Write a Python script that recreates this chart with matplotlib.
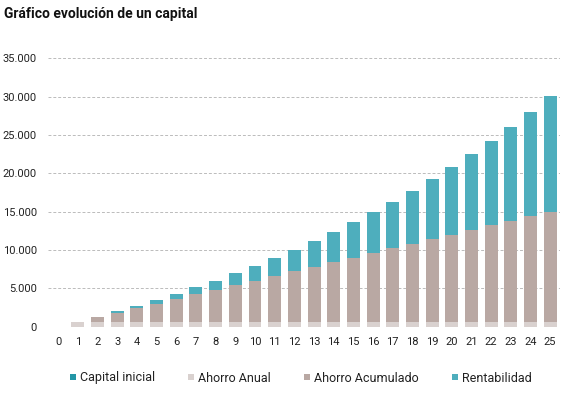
import matplotlib
matplotlib.use("Agg")
import matplotlib.pyplot as plt
from matplotlib.lines import Line2D
import numpy as np

plt.rcParams['font.family'] = ['Roboto', 'DejaVu Sans']

years = list(range(1, 26))
capital_inicial = [0] * 25
ahorro_anual = [600] * 25
ahorro_acumulado = [0, 600, 1200, 1800, 2400, 3000, 3600, 4200, 4800, 5400,
                    6000, 6600, 7200, 7800, 8400, 9000, 9600, 10200, 10800, 11400,
                    12000, 12600, 13200, 13800, 14400]
total = [630, 1290, 1990, 2710, 3480, 4290, 5130, 6020, 6950, 7920,
         8950, 10030, 11160, 12350, 13600, 14900, 16280, 17720, 19240, 20830,
         22500, 24260, 26100, 28040, 30070]
rentabilidad = [t - a - b - c for t, a, b, c in zip(total, capital_inicial, ahorro_anual, ahorro_acumulado)]

series_names = ["Capital inicial", "Ahorro Anual", "Ahorro Acumulado", "Rentabilidad"]
colors = ["#2396a6", "#d9d1cf", "#b9a8a3", "#4eaebd"]
x_ticks = list(range(0, 26))
y_ticks = [0, 5000, 10000, 15000, 20000, 25000, 30000, 35000]

fig = plt.figure(figsize=(5.67, 3.97), dpi=100)
ax = fig.add_axes([48/567, 1-326.7/397, (560-48)/567, (326.7-58.3)/397])

x = np.array(years)
bottom = np.zeros(len(years))
order = [(capital_inicial, colors[0]), (ahorro_anual, colors[1]),
         (ahorro_acumulado, colors[2]), (rentabilidad, colors[3])]
for vals, col in order:
    v = np.array(vals, dtype=float)
    ax.bar(x, v, bottom=bottom, width=0.66, color=col, linewidth=0, zorder=3)
    bottom += v

ax.set_xlim(-0.52, 25.5)
ax.set_ylim(0, 35000)
ax.set_xticks(x_ticks)
ax.set_xticklabels([str(t) for t in x_ticks])
ax.set_yticks(y_ticks)
ax.set_yticklabels([f"{t:,.0f}".replace(",", ".") for t in y_ticks])
ax.tick_params(axis='both', length=0, labelsize=8, colors="#222222")
ax.tick_params(axis='y', pad=8)
ax.tick_params(axis='x', pad=7.5)
for s in ax.spines.values():
    s.set_visible(False)
ax.yaxis.grid(True, color="#bbbbbb", linestyle=(0, (3, 2)), linewidth=0.7, zorder=0)
ax.yaxis.get_gridlines()[0].set_visible(False)
ax.set_axisbelow(True)

fig.text(4/567, 1-14/397, "Gráfico evolución de un capital", fontsize=10,
         fontweight='bold', ha='left', va='center', color="#111111")

handles = [Line2D([0], [0], marker='s', linestyle='none', markersize=4.2,
                  markerfacecolor=c, markeredgewidth=0) for c in colors]
fig.legend(handles, series_names, loc='center left', ncol=4,
           bbox_to_anchor=(69/567, 1-378/397), frameon=False, fontsize=9,
           handlelength=0.6, handletextpad=0.3, columnspacing=2.55,
           borderpad=0, borderaxespad=0, labelcolor="#222222")

fig.savefig("out.png", dpi=100)
